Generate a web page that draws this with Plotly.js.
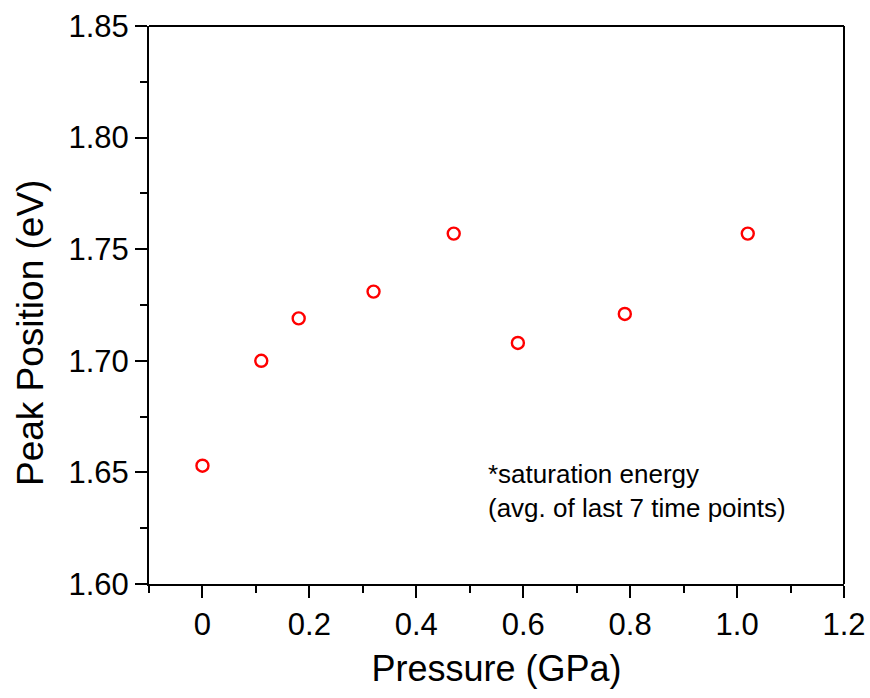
<!DOCTYPE html>
<html>
<head>
<meta charset="utf-8">
<script src="https://cdn.plot.ly/plotly-3.0.1.min.js"></script>
<style>html,body{margin:0;padding:0;background:#fff;}#chart{width:870px;height:698px;}</style>
</head>
<body>
<div id="chart"></div>
<script>
const pressure = [0, 0.11, 0.18, 0.32, 0.47, 0.59, 0.79, 1.02];
const peakPosition = [1.653, 1.700, 1.719, 1.731, 1.757, 1.708, 1.721, 1.757];
const xTickVals = [0, 0.2, 0.4, 0.6, 0.8, 1.0, 1.2];
const xTickText = ["0", "0.2", "0.4", "0.6", "0.8", "1.0", "1.2"];
const yTickVals = [1.60, 1.65, 1.70, 1.75, 1.80, 1.85];
const yTickText = ["1.60", "1.65", "1.70", "1.75", "1.80", "1.85"];

const font = "Liberation Sans, Arial, sans-serif";

Plotly.newPlot("chart", [{
  x: pressure,
  y: peakPosition,
  type: "scatter",
  mode: "markers",
  marker: {symbol: "circle-open", size: 12, color: "#ff0000", line: {width: 2.4, color: "#ff0000"}},
  showlegend: false,
  cliponaxis: false
}], {
  width: 870, height: 698,
  margin: {l: 149, r: 26, t: 26, b: 114},
  paper_bgcolor: "#fff", plot_bgcolor: "#fff",
  font: {family: font, color: "#000"},
  xaxis: {
    range: [-0.1, 1.2],
    tickvals: xTickVals, ticktext: xTickText,
    ticks: "outside", ticklen: 12, tickwidth: 2, tickcolor: "#000",
    minor: {dtick: 0.1, tick0: 0, ticks: "outside", ticklen: 7, tickwidth: 2, tickcolor: "#000"},
    showline: true, linewidth: 2, linecolor: "#000", mirror: false,
    showgrid: false, zeroline: false,
    tickfont: {size: 31, family: font},
    title: {text: "Pressure (GPa)", font: {size: 36, family: font}, standoff: 15},
    automargin: false
  },
  yaxis: {
    range: [1.60, 1.85],
    tickvals: yTickVals, ticktext: yTickText,
    ticks: "outside", ticklen: 12, tickwidth: 2, tickcolor: "#000",
    minor: {dtick: 0.025, tick0: 1.6, ticks: "outside", ticklen: 7, tickwidth: 2, tickcolor: "#000"},
    showline: true, linewidth: 2, linecolor: "#000", mirror: false,
    showgrid: false, zeroline: false,
    tickfont: {size: 31, family: font},
    automargin: false
  },
  shapes: [
    {type: "line", xref: "paper", yref: "paper", x0: 0, x1: 1, y0: 1, y1: 1, line: {color: "#000", width: 2}},
    {type: "line", xref: "paper", yref: "paper", x0: 1, x1: 1, y0: 0, y1: 1, line: {color: "#000", width: 2}}
  ],
  annotations: [{
    xref: "x", yref: "y", x: 0.53, y: 1.6417,
    xanchor: "left", yanchor: "middle", align: "left",
    text: "*saturation energy<br>(avg. of last 7 time points)",
    showarrow: false,
    font: {size: 26, family: font, color: "#000"}
  }, {
    xref: "paper", yref: "paper", x: -0.1712, y: 0.4498,
    xanchor: "center", yanchor: "middle", textangle: -90,
    text: "Peak Position (eV)",
    showarrow: false,
    font: {size: 37, family: font, color: "#000"}
  }]
}, {staticPlot: true});
</script>
</body>
</html>
